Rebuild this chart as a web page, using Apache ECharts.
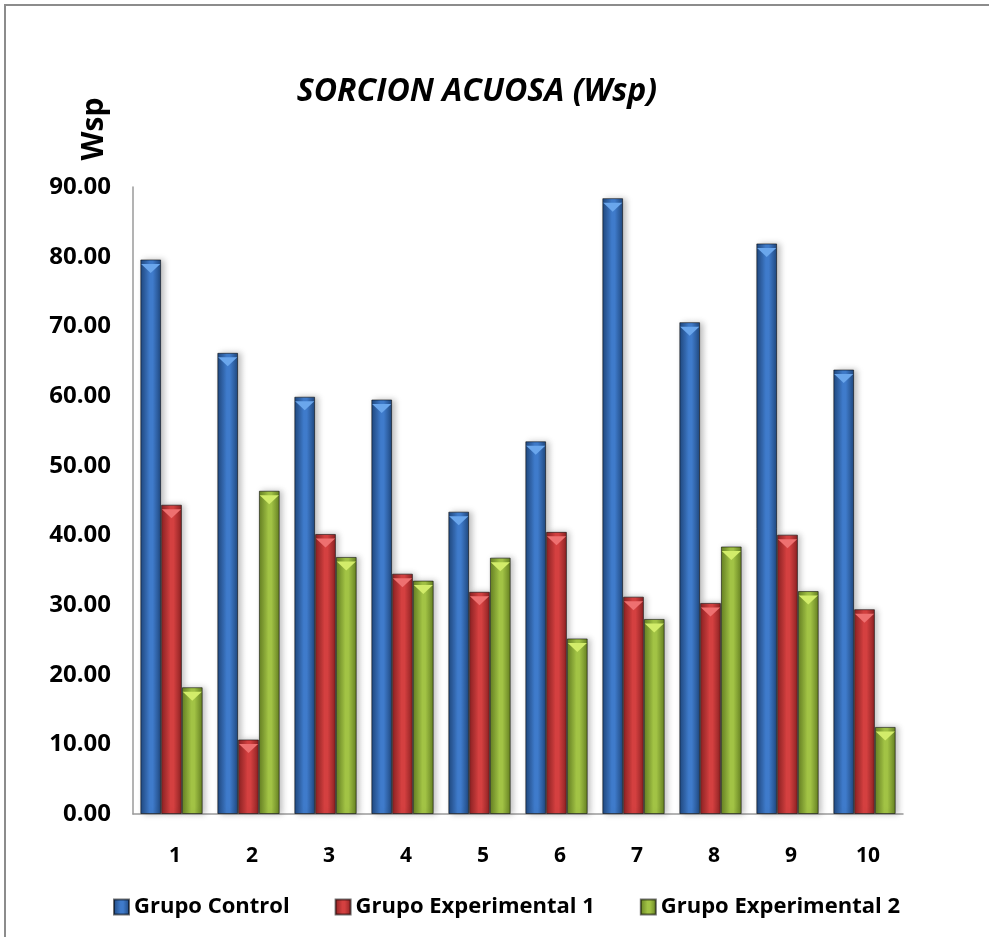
<!DOCTYPE html>
<html>
<head>
<meta charset="utf-8">
<script src="https://cdn.jsdelivr.net/npm/echarts@6/dist/echarts.min.js"></script>
<style>
html,body{margin:0;padding:0;background:#fff;}
#chart{width:989px;height:937px;}
</style>
</head>
<body>
<div id="chart"></div>
<script>
var categories = ['1','2','3','4','5','6','7','8','9','10'];
var seriesNames = ['Grupo Control','Grupo Experimental 1','Grupo Experimental 2'];
var grupoControl = [79.6, 66.2, 59.9, 59.5, 43.4, 53.5, 88.4, 70.6, 81.9, 63.8];
var grupoExp1 = [44.4, 10.7, 40.2, 34.5, 31.9, 40.5, 31.2, 30.3, 40.1, 29.4];
var grupoExp2 = [18.2, 46.4, 36.9, 33.5, 36.8, 25.2, 28.0, 38.4, 32.0, 12.5];
var yTicks = {min: 0, max: 90, interval: 10};
var titleText = 'SORCION ACUOSA (Wsp)';
var yName = 'Wsp';

var FONT = '"Open Sans"';
var palettes = [
  {edge:'#1f477d', mid:'#3f7bcb', tip:'#6aa6ec'},
  {edge:'#8a2122', mid:'#d44040', tip:'#ee7070'},
  {edge:'#647f22', mid:'#a2c345', tip:'#d2ec6a'}
];
function grad(p){
  return new echarts.graphic.LinearGradient(0,0,1,0,[
    {offset:0,color:p.edge},{offset:0.45,color:p.mid},{offset:0.6,color:p.mid},{offset:1,color:p.edge}
  ]);
}
var values = [grupoControl, grupoExp1, grupoExp2];
var series = [];
values.forEach(function(v,i){
  series.push({
    name: seriesNames[i], type:'bar', data:v,
    barGap:'0%', barCategoryGap:'19%',
    itemStyle:{color:grad(palettes[i]), borderColor:'rgba(0,0,0,0.55)', borderWidth:1,
      shadowBlur:6, shadowOffsetX:3, shadowOffsetY:0, shadowColor:'rgba(0,0,0,0.25)'},
    emphasis:{disabled:true}
  });
});
values.forEach(function(v,i){
  series.push({
    name: seriesNames[i]+' tip', type:'pictorialBar', data:v,
    barGap:'0%', barCategoryGap:'19%',
    symbol:'triangle', symbolRotate:180, symbolPosition:'end',
    symbolSize:['92%',9], symbolOffset:[0,'50%'],
    itemStyle:{color:palettes[i].tip}, z:3, silent:true
  });
});

var chart = echarts.init(document.getElementById('chart'));
chart.setOption({
  animation:false,
  backgroundColor:'#fff',
  title:{text:titleText, left:472, top:71, textAlign:'center',
    textStyle:{fontFamily:FONT, fontSize:32, fontWeight:'bold', fontStyle:'italic', color:'#000'}},
  grid:{left:133, right:86, top:187, bottom:123, containLabel:false},
  legend:{data:seriesNames, left:108, top:891, itemWidth:15, itemHeight:15, itemGap:45,
    icon:'rect', textStyle:{fontFamily:FONT, fontSize:22, fontWeight:'bold', color:'#000'}},
  xAxis:{type:'category', data:categories,
    axisLine:{lineStyle:{color:'#9a9a9a', width:1.5}}, axisTick:{show:false},
    axisLabel:{fontFamily:FONT, fontSize:21, fontWeight:'bold', color:'#000', margin:32, padding:[0,0,0,7]}},
  yAxis:{type:'value', min:yTicks.min, max:yTicks.max, interval:yTicks.interval,
    axisLine:{show:true, lineStyle:{color:'#9a9a9a', width:1.5}}, axisTick:{show:false},
    splitLine:{show:false},
    axisLabel:{fontFamily:FONT, fontSize:24, fontWeight:'bold', color:'#000', margin:22,
      formatter:function(v){return v.toFixed(2);}}},
  graphic:[
    {type:'rect', shape:{x:5,y:5,width:1200,height:1200}, style:{fill:'none', stroke:'#8c8c8c', lineWidth:2}, silent:true},
    {type:'text', x:94, y:129, rotation:Math.PI/2, style:{text:yName, fontFamily:FONT, fontSize:30, fontWeight:'bold', fill:'#000', align:'center', verticalAlign:'middle'}}
  ],
  series:series
});
</script>
</body>
</html>
